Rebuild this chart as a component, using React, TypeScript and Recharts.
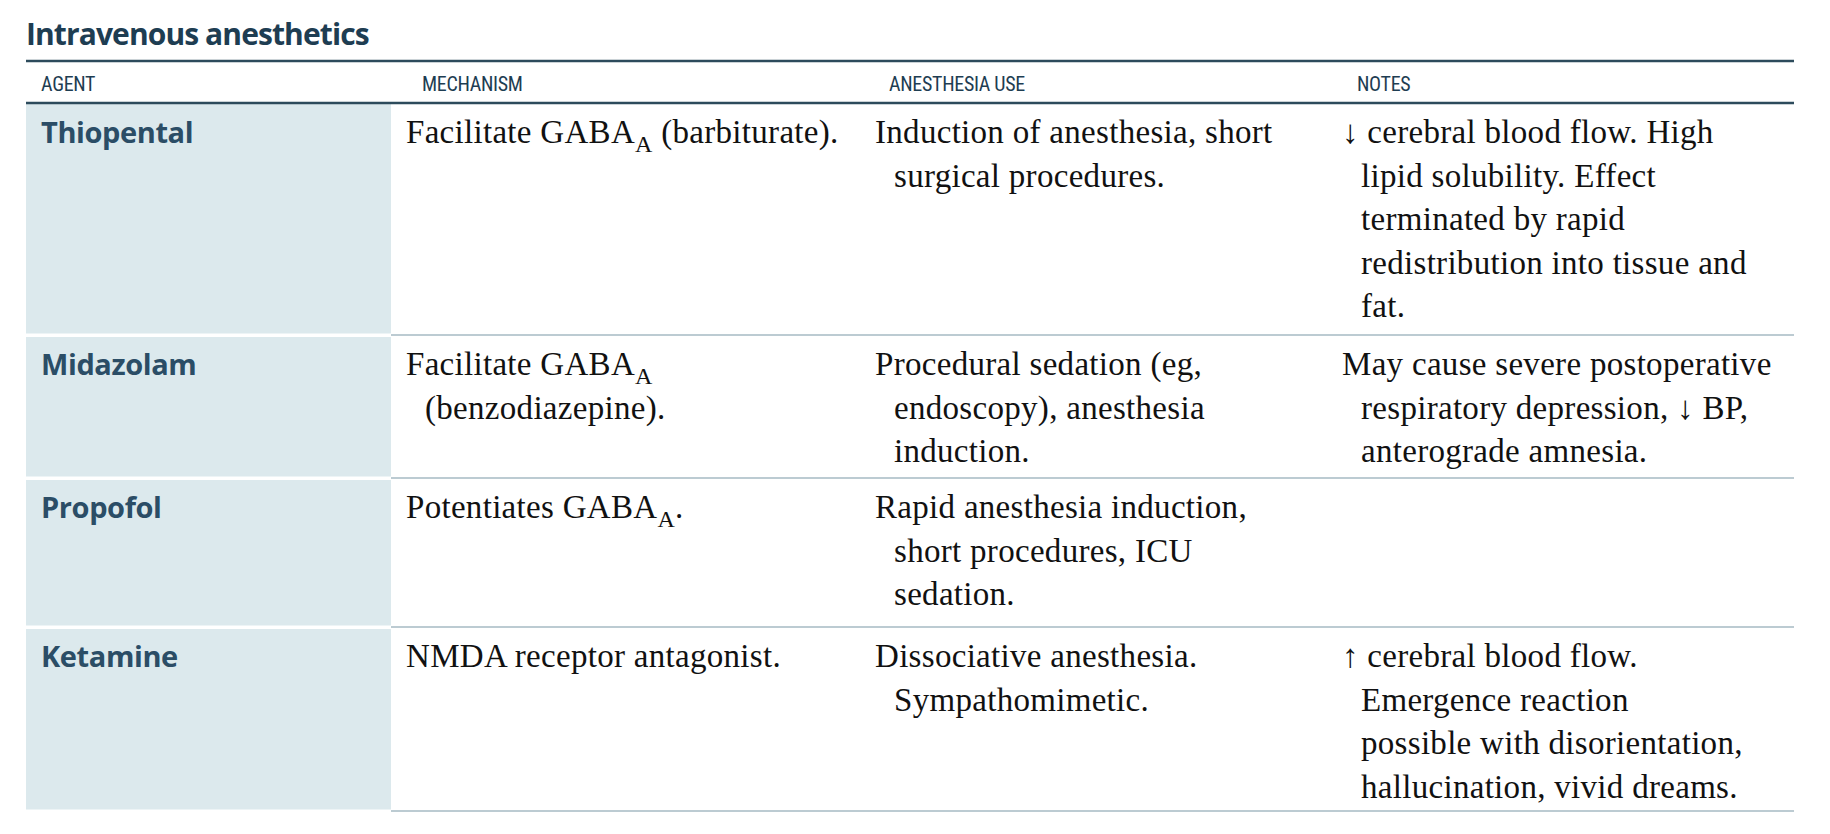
import React from "react";
import { ComposedChart, XAxis, YAxis, Scatter, ReferenceLine, ReferenceArea } from "recharts";

const title = "Intravenous anesthetics";
const headers = ["AGENT", "MECHANISM", "ANESTHESIA USE", "NOTES"];
const agents = ["Thiopental", "Midazolam", "Propofol", "Ketamine"];
const mechanism = [
  ["Facilitate GABA_A (barbiturate)."],
  ["Facilitate GABA_A", "(benzodiazepine)."],
  ["Potentiates GABA_A."],
  ["NMDA receptor antagonist."],
];
const anesthesiaUse = [
  ["Induction of anesthesia, short", "surgical procedures."],
  ["Procedural sedation (eg,", "endoscopy), anesthesia", "induction."],
  ["Rapid anesthesia induction,", "short procedures, ICU", "sedation."],
  ["Dissociative anesthesia.", "Sympathomimetic."],
];
const notes = [
  ["↓ cerebral blood flow. High", "lipid solubility. Effect", "terminated by rapid", "redistribution into tissue and", "fat."],
  ["May cause severe postoperative", "respiratory depression, ↓ BP,", "anterograde amnesia."],
  [],
  ["↑ cerebral blood flow.", "Emergence reaction", "possible with disorientation,", "hallucination, vivid dreams."],
];

// layout (page pixels)
const W = 1830, H = 834;
const left = 26, right = 1794;
const colX = [41, 406, 875, 1342];
const headerX = [41, 422, 889, 1357];
const shadeRight = 391;
const rowTops = [103, 335, 478, 627, 811];
const firstOffset = 40;
const lineGap = 43.5;
const indent = 19;

type Pt = { x: number; y: number; text: string; kind: string };
const points: Pt[] = [];
points.push({ x: left, y: 45, text: title, kind: "title" });
headers.forEach((h, i) => points.push({ x: headerX[i], y: 91, text: h, kind: "header" }));
agents.forEach((a, r) => {
  const base = rowTops[r] + firstOffset;
  points.push({ x: colX[0], y: base, text: a, kind: "agent" });
  [mechanism[r], anesthesiaUse[r], notes[r]].forEach((cell, c) => {
    cell.forEach((line, li) => {
      points.push({ x: colX[c + 1] + (li > 0 ? indent : 0), y: base + li * lineGap, text: line, kind: "body" });
    });
  });
});

const styles: Record<string, any> = {
  title: { fontFamily: "'Open Sans', sans-serif", fontWeight: 700, fontSize: 30, fill: "#1e3d52", letterSpacing: -0.9 },
  header: { fontFamily: "'Liberation Sans Narrow', 'Roboto Condensed', Roboto, sans-serif", fontSize: 20, fill: "#1e3d52", letterSpacing: -0.3 },
  agent: { fontFamily: "'Open Sans', sans-serif", fontWeight: 700, fontSize: 29, fill: "#2b4d66", letterSpacing: -0.4 },
  body: { fontFamily: "'Liberation Serif', serif", fontSize: 33, fill: "#111", letterSpacing: 0.3 },
};

const TextShape = (props: any) => {
  const { cx, cy, payload } = props;
  const st = styles[payload.kind];
  const parts = String(payload.text).split("_A");
  return (
    <text x={cx} y={cy} {...st}>
      {parts.map((p: string, i: number) => (
        <React.Fragment key={i}>
          <tspan dy={i > 0 ? -9 : 0}>{p}</tspan>
          {i < parts.length - 1 && <tspan dy={9} fontSize={24}>A</tspan>}
        </React.Fragment>
      ))}
    </text>
  );
};

export default function App() {
  return (
    <ComposedChart width={W - 16} height={H - 16} margin={{ top: 0, right: 0, bottom: 0, left: 0 }} data={points}>
      <XAxis type="number" dataKey="x" domain={[8, W - 8]} hide allowDataOverflow />
      <YAxis type="number" dataKey="y" domain={[8, H - 8]} reversed hide allowDataOverflow />
      {agents.map((a, r) => (
        <ReferenceArea key={a} x1={left} x2={shadeRight} y1={rowTops[r] + (r === 0 ? 1 : 2)} y2={rowTops[r + 1] - 1.5} fill="#dce9ed" fillOpacity={1} stroke="none" />
      ))}
      {rowTops.slice(1).map((y, i) => (
        <ReferenceLine key={i} segment={[{ x: shadeRight, y }, { x: right, y }]} stroke="#bccbd2" strokeWidth={2} />
      ))}
      <ReferenceLine segment={[{ x: left, y: 61 }, { x: right, y: 61 }]} stroke="#2d4b5c" strokeWidth={2.5} />
      <ReferenceLine segment={[{ x: left, y: 103 }, { x: right, y: 103 }]} stroke="#2d4b5c" strokeWidth={2.5} />
      <Scatter data={points} dataKey="y" shape={TextShape} isAnimationActive={false} />
    </ComposedChart>
  );
}
